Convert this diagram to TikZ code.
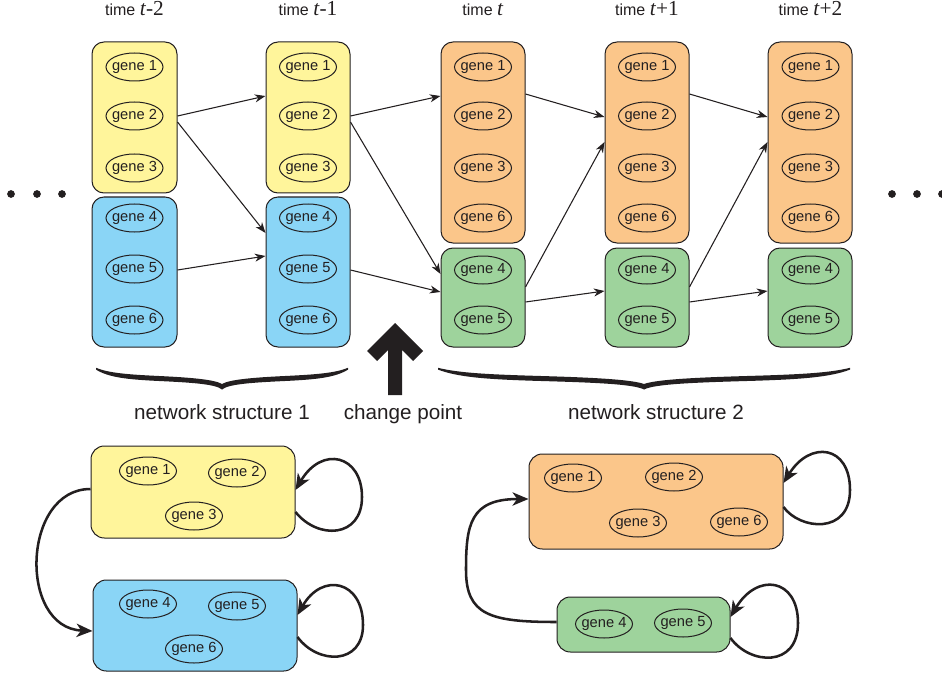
\documentclass[tikz,border=0pt]{standalone}
\usepackage{fontspec}
\setmainfont{Liberation Sans}
\newfontfamily\timesfont{Liberation Serif}
\usetikzlibrary{arrows.meta,shapes.geometric,fit}

\definecolor{ink}{RGB}{35,31,32}
\definecolor{cyel}{RGB}{255,245,155}
\definecolor{cblue}{RGB}{138,213,246}
\definecolor{corange}{RGB}{251,198,138}
\definecolor{cgreen}{RGB}{158,211,156}

% gene label with zero width, so the ellipse keeps its fixed size
\newcommand\gn[1]{\makebox[0pt]{gene #1}}
% column heading: "time" in sans, the index in serif
\newcommand\tlab[1]{time {\timesfont\fontsize{16}{16}\selectfont #1}}
% one half of a calligraphic brace, x in [-1,0], y in px downwards
\newcommand\halfbrace{%
  \fill[ink] (-1,0.6) .. controls (-0.9,8.5) and (-0.75,10.5) .. (-0.5,12)
    .. controls (-0.25,13.5) and (-0.05,15) .. (0,20.5)
    -- (0,15) .. controls (-0.06,10.5) and (-0.25,8.5) .. (-0.5,7)
    .. controls (-0.75,5.5) and (-0.9,4) .. (-1,-1.2) -- cycle;}

\begin{document}
\begin{tikzpicture}[x=0.75pt,y=-0.75pt,
  gene/.style={ellipse, draw=ink, line width=0.75pt, minimum width=42.75pt,
    minimum height=21pt, inner sep=0pt, text=ink,
    font=\fontsize{11}{12}\selectfont},
  colbox/.style={draw=ink, line width=0.75pt, rounded corners=9pt, inner sep=0pt},
  netbox/.style={draw=ink, line width=0.75pt, rounded corners=10pt, inner sep=0pt},
  link/.style={draw=ink, line width=0.8pt, -{Stealth[length=8pt,width=6pt,inset=2.5pt]}},
  feed/.style={draw=ink, line width=1.9pt, -{Stealth[length=12pt,width=10pt,inset=3.5pt]}},
  heading/.style={anchor=base, text=ink, font=\fontsize{12}{14}\selectfont},
  caption/.style={anchor=base, text=ink, font=\fontsize{15.5}{18}\selectfont},
  dot/.style={fill=ink}]
\useasboundingbox (0,0) rectangle (942,681);

% ---------- time headings ----------
\node[heading] (h1) at (134.5,16) {\tlab{\textit{t}-2}};
\node[heading] (h2) at (308,16)   {\tlab{\textit{t}-1}};
\node[heading] (h3) at (483,16)   {\tlab{\textit{t}}};
\node[heading] (h4) at (647,16)   {\tlab{\textit{t}+1}};
\node[heading] (h5) at (810.5,16) {\tlab{\textit{t}+2}};

% ---------- module boxes per time slice ----------
\node[colbox, fill=cyel,    fit={(92,42) (177,193)}]   (Y1) {};
\node[colbox, fill=cblue,   fit={(92,197) (177,347)}]  (B1) {};
\node[colbox, fill=cyel,    fit={(266,42) (350,193)}]  (Y2) {};
\node[colbox, fill=cblue,   fit={(266,197) (350,347)}] (B2) {};
\node[colbox, fill=corange, fit={(441,42) (525,243)}]  (O3) {};
\node[colbox, fill=cgreen,  fit={(441,248) (525,347)}] (G3) {};
\node[colbox, fill=corange, fit={(605,42) (689,243)}]  (O4) {};
\node[colbox, fill=cgreen,  fit={(605,248) (689,347)}] (G4) {};
\node[colbox, fill=corange, fit={(768,42) (852,243)}]  (O5) {};
\node[colbox, fill=cgreen,  fit={(768,248) (852,347)}] (G5) {};

% ---------- genes ----------
\node[gene] (a1) at (134.5,67)  {\gn{1}};
\node[gene] (a2) at (134.5,116) {\gn{2}};
\node[gene] (a3) at (134.5,168) {\gn{3}};
\node[gene] (a4) at (134.5,218) {\gn{4}};
\node[gene] (a5) at (134.5,269) {\gn{5}};
\node[gene] (a6) at (134.5,320) {\gn{6}};

\node[gene] (b1) at (308,67)  {\gn{1}};
\node[gene] (b2) at (308,116) {\gn{2}};
\node[gene] (b3) at (308,168) {\gn{3}};
\node[gene] (b4) at (308,218) {\gn{4}};
\node[gene] (b5) at (308,269) {\gn{5}};
\node[gene] (b6) at (308,320) {\gn{6}};

\node[gene] (c1) at (483,67)  {\gn{1}};
\node[gene] (c2) at (483,116) {\gn{2}};
\node[gene] (c3) at (483,168) {\gn{3}};
\node[gene] (c6) at (483,218) {\gn{6}};
\node[gene] (c4) at (483,270) {\gn{4}};
\node[gene] (c5) at (483,320) {\gn{5}};

\node[gene] (d1) at (647,67)  {\gn{1}};
\node[gene] (d2) at (647,116) {\gn{2}};
\node[gene] (d3) at (647,168) {\gn{3}};
\node[gene] (d6) at (647,218) {\gn{6}};
\node[gene] (d4) at (647,270) {\gn{4}};
\node[gene] (d5) at (647,320) {\gn{5}};

\node[gene] (e1) at (810.5,67)  {\gn{1}};
\node[gene] (e2) at (810.5,116) {\gn{2}};
\node[gene] (e3) at (810.5,168) {\gn{3}};
\node[gene] (e6) at (810.5,218) {\gn{6}};
\node[gene] (e4) at (810.5,270) {\gn{4}};
\node[gene] (e5) at (810.5,320) {\gn{5}};

% ---------- links between consecutive time slices ----------
\draw[link] (Y1.east |- 0,116) -- (Y2.west |- 0,96);
\draw[link] (Y1.east |- 0,122) -- (B2.west |- 0,233);
\draw[link] (B1.east |- 0,270) -- (B2.west |- 0,256);

\draw[link] (Y2.east |- 0,116) -- (O3.west |- 0,96);
\draw[link] (Y2.east |- 0,122) -- (G3.west |- 0,274);
\draw[link] (B2.east |- 0,270) -- (G3.west |- 0,292);

\draw[link] (O3.east |- 0,94)  -- (O4.west |- 0,117);
\draw[link] (G3.east |- 0,287) -- (O4.west |- 0,142);
\draw[link] (G3.east |- 0,302) -- (G4.west |- 0,291);

\draw[link] (O4.east |- 0,94)  -- (O5.west |- 0,117);
\draw[link] (G4.east |- 0,287) -- (O5.west |- 0,142);
\draw[link] (G4.east |- 0,302) -- (G5.west |- 0,291);

% ---------- continuation dots ----------
\foreach \x in {11,37,62,892,917,942}
  \fill[dot] (\x,194) circle[radius=2.9pt];

% ---------- braces ----------
\begin{scope}[shift={(222,369)}, xscale=126]
  \halfbrace
  \begin{scope}[xscale=-1]\halfbrace\end{scope}
\end{scope}
\begin{scope}[shift={(644,369)}, xscale=206]
  \halfbrace
  \begin{scope}[xscale=-1]\halfbrace\end{scope}
\end{scope}

% ---------- change point arrow ----------
\fill[ink] (395,323) -- (423,351) -- (413,361) -- (402,350) -- (402,395)
  -- (388,395) -- (388,350) -- (377,361) -- (367,351) -- cycle;

% ---------- captions ----------
\node[caption] (n1) at (222,419) {network structure 1};
\node[caption] (cp) at (403,419) {change point};
\node[caption] (n2) at (656,419) {network structure 2};

% ---------- network structure 1 ----------
\node[netbox, fill=cyel,  fit={(91,446) (295,538)}] (YB) {};
\node[netbox, fill=cblue, fit={(93,580) (297,671)}] (BB) {};
\node[gene] (p1) at (148,471) {\gn{1}};
\node[gene] (p2) at (237,473) {\gn{2}};
\node[gene] (p3) at (194,516) {\gn{3}};
\node[gene] (p4) at (148,604) {\gn{4}};
\node[gene] (p5) at (237,606) {\gn{5}};
\node[gene] (p6) at (194,649) {\gn{6}};

\draw[feed] (YB.east |- 0,512) .. controls (318,540) and (362,538) .. (362,497)
  .. controls (362,455) and (322,445) .. (YB.east |- 0,490);
\draw[feed] (BB.east |- 0,637) .. controls (318,665) and (363,665) .. (363,625)
  .. controls (363,580) and (322,572) .. (BB.east |- 0,615);
\draw[feed] (YB.west |- 0,489) .. controls (22,489) and (18,628) .. (BB.west |- 0,631);

% ---------- network structure 2 ----------
\node[netbox, fill=corange, fit={(529,454) (783,549)}] (OB) {};
\node[netbox, fill=cgreen,  fit={(557,597) (730,652)}] (GB) {};
\node[gene] (q1) at (573,478) {\gn{1}};
\node[gene] (q2) at (674,477) {\gn{2}};
\node[gene] (q3) at (638,523) {\gn{3}};
\node[gene] (q6) at (739,522) {\gn{6}};
\node[gene] (q4) at (604,624) {\gn{4}};
\node[gene] (q5) at (683,623) {\gn{5}};

\draw[feed] (OB.east |- 0,507) .. controls (800,530) and (850,535) .. (850,490)
  .. controls (850,445) and (810,440) .. (OB.east |- 0,483);
\draw[feed] (GB.east |- 0,638) .. controls (750,665) and (798,668) .. (798,623)
  .. controls (798,578) and (757,572) .. (GB.east |- 0,617);
\draw[feed] (GB.west |- 0,622) .. controls (490,622) and (466,615) .. (466,570)
  .. controls (466,525) and (470,499) .. (OB.west |- 0,499);
\end{tikzpicture}
\end{document}
